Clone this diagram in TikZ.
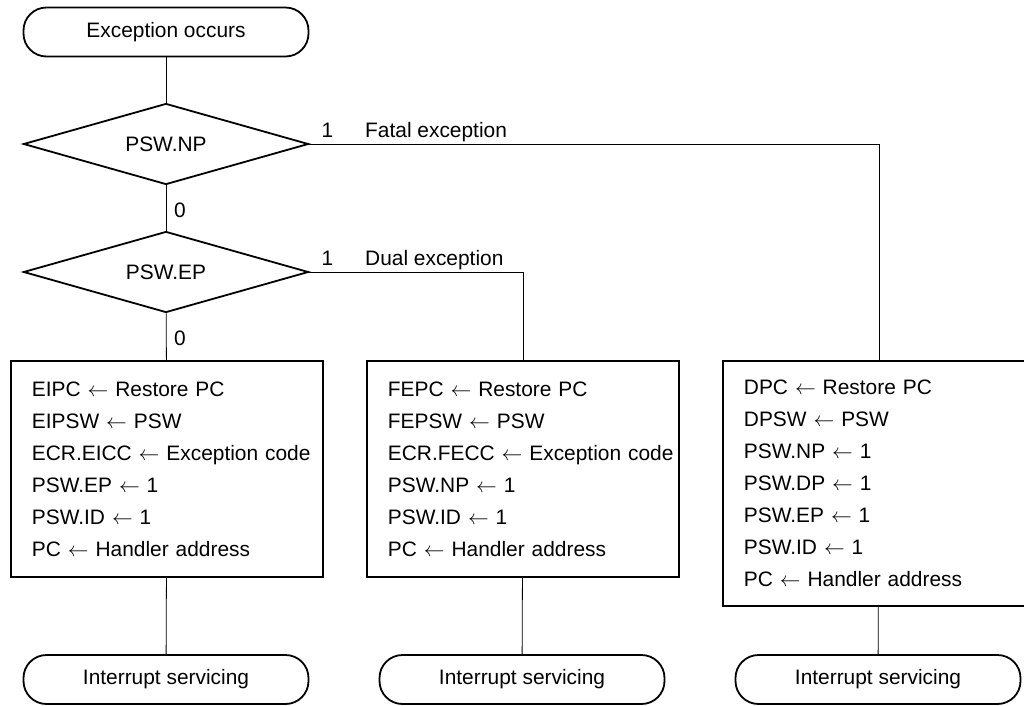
\documentclass[tikz,border=0pt]{standalone}
\usepackage{fontspec}
\setmainfont{Liberation Sans}
\usetikzlibrary{shapes.geometric}
\newcommand{\assign}{$\leftarrow$}
\begin{document}
\begin{tikzpicture}[x=1pt,y=1pt,
  every node/.style={font=\fontsize{20.9}{32}\selectfont},
  terminal/.style={draw, line width=1.8pt, rounded corners=23pt,
    minimum width=285pt, minimum height=49pt, inner sep=0pt},
  decision/.style={draw, diamond, line width=1.8pt, aspect=3.5,
    minimum width=285pt, minimum height=81pt, inner sep=0pt},
  procbox/.style={draw, line width=1.8pt, anchor=north west,
    minimum width=312pt, text width=270pt, inner xsep=21pt,
    inner ysep=0pt, align=left},
  link/.style={line width=0.8pt},
  flag/.style={anchor=base west, inner sep=0pt}
]
\clip (0,0) rectangle (1024,-705);

% start, decisions
\node[terminal] (start) at (166,-32) {Exception occurs};
\node[decision] (d1) at (166,-144) {PSW.NP};
\node[decision] (d2) at (166,-272) {PSW.EP};

% processing boxes
\node[procbox, minimum height=216pt] (b1) at (10,-360) {%
  EIPC \assign{} Restore PC\\
  EIPSW \assign{} PSW\\
  \mbox{ECR.EICC \assign{} Exception code}\\
  PSW.EP \assign{} 1\\
  PSW.ID \assign{} 1\\
  PC \assign{} Handler address};
\node[procbox, minimum height=216pt] (b2) at (366,-360) {%
  FEPC \assign{} Restore PC\\
  FEPSW \assign{} PSW\\
  \mbox{ECR.FECC \assign{} Exception code}\\
  PSW.NP \assign{} 1\\
  PSW.ID \assign{} 1\\
  PC \assign{} Handler address};
\node[procbox, minimum height=245pt] (b3) at (722,-360) {%
  DPC \assign{} Restore PC\\
  DPSW \assign{} PSW\\
  PSW.NP \assign{} 1\\
  PSW.DP \assign{} 1\\
  PSW.EP \assign{} 1\\
  PSW.ID \assign{} 1\\
  PC \assign{} Handler address};

% end terminals
\node[terminal] (e1) at (166,-679.5) {Interrupt servicing};
\node[terminal] (e2) at (522,-679.5) {Interrupt servicing};
\node[terminal] (e3) at (878,-679.5) {Interrupt servicing};

% connectors
\draw[link] (start) -- (d1);
\draw[link] (d1) -- (d2);
\draw[link] (d2) -- (b1);
\draw[link] (d1.east) -| (b3.north);
\draw[link] (d2.east) -| (b2.north);
\draw[link] (b1) -- (e1);
\draw[link] (b2) -- (e2);
\draw[link] (b3) -- (e3);

% branch labels
\node[flag] (one1) at (321.5,-137) {1};
\node[flag] (fatal) at (365,-137) {Fatal exception};
\node[flag] (one2) at (321.5,-265) {1};
\node[flag] (dual) at (365,-265) {Dual exception};
\node[flag] (zero1) at (174,-217) {0};
\node[flag] (zero2) at (174,-345) {0};
\end{tikzpicture}
\end{document}
